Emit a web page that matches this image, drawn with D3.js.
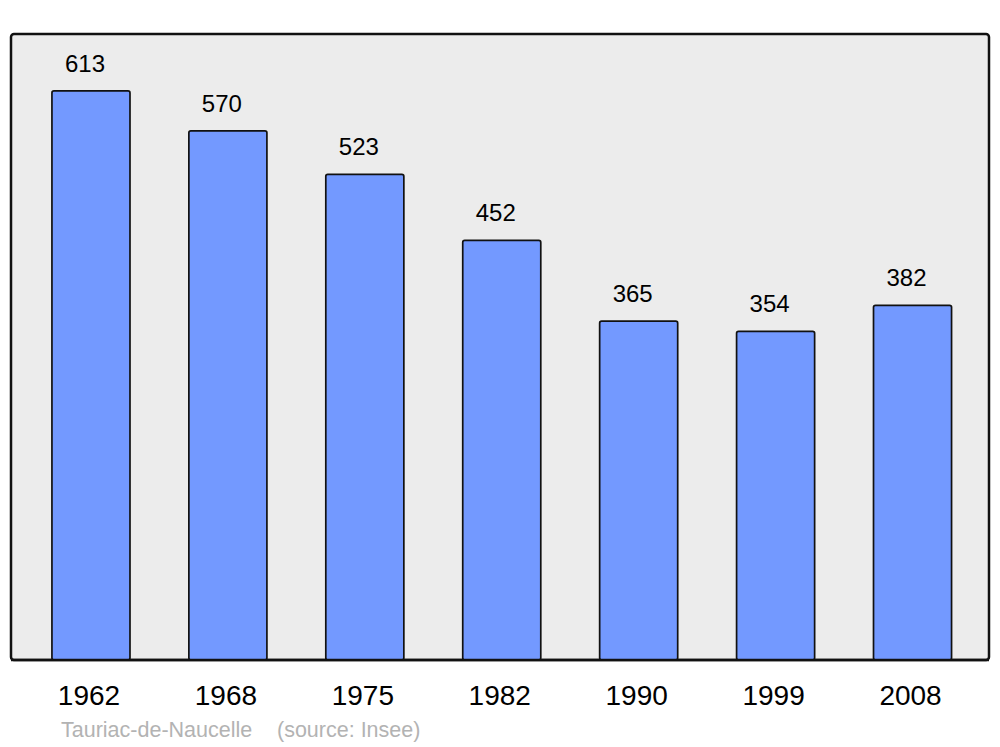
<!DOCTYPE html>
<html><head><meta charset="utf-8">
<script src="https://cdn.jsdelivr.net/npm/d3@7"></script>
<style>body{margin:0;background:#fff}svg{display:block}</style>
</head><body>
<svg id="c" width="1000" height="747"></svg>
<script>
const years = ["1962","1968","1975","1982","1990","1999","2008"];
const population = [613,570,523,452,365,354,382];
const commune = "Tauriac-de-Naucelle";
const source = "(source: Insee)";

const svg = d3.select("#c");
const font = "'Liberation Sans', Arial, sans-serif";

const panel = {x0:11, x1:989, y0:34, y1:660};
svg.append("rect").attr("x",panel.x0).attr("y",panel.y0)
  .attr("width",panel.x1-panel.x0).attr("height",panel.y1-panel.y0)
  .attr("rx",3).attr("fill","#ececec").attr("stroke","#111").attr("stroke-width",2.5);

const x = d3.scaleBand().domain(years).range([22.5,981]).paddingInner(0.43).paddingOuter(0.215);
const y = d3.scaleLinear().domain([0, d3.max(population)*1.1]).range([panel.y1, panel.y0]);

const data = years.map((yr,i)=>({yr, v:population[i]}));

svg.selectAll("rect.bar").data(data).join("rect").attr("class","bar")
  .attr("x",d=>x(d.yr)).attr("y",d=>y(d.v))
  .attr("width",x.bandwidth()).attr("height",d=>y(0)-y(d.v))
  .attr("rx",2).attr("fill","#7399ff").attr("stroke","#111").attr("stroke-width",1.7);

svg.selectAll("text.val").data(data).join("text").attr("class","val")
  .attr("x",d=>x(d.yr)+x.bandwidth()/2-6).attr("y",d=>y(d.v)-19)
  .attr("text-anchor","middle").attr("font-family",font).attr("font-size",24)
  .attr("fill","#000").text(d=>d.v);

svg.append("line").attr("x1",panel.x0).attr("x2",panel.x1).attr("y1",panel.y1).attr("y2",panel.y1)
  .attr("stroke","#111").attr("stroke-width",2.5);

const xAxis = svg.append("g").attr("transform",`translate(0,${panel.y1})`)
  .call(d3.axisBottom(x).tickSize(0).tickPadding(0));
xAxis.select(".domain").remove();
xAxis.selectAll("text").attr("font-family",font).attr("font-size",28).attr("fill","#000")
  .attr("dy",null).attr("y",45).attr("dx",-2);

svg.append("text").attr("x",61).attr("y",737).attr("font-family",font).attr("font-size",21.5)
  .attr("fill","#b3b3b3").text(commune);
svg.append("text").attr("x",277).attr("y",737).attr("font-family",font).attr("font-size",21.5)
  .attr("fill","#b3b3b3").text(source);
</script>
</body></html>
